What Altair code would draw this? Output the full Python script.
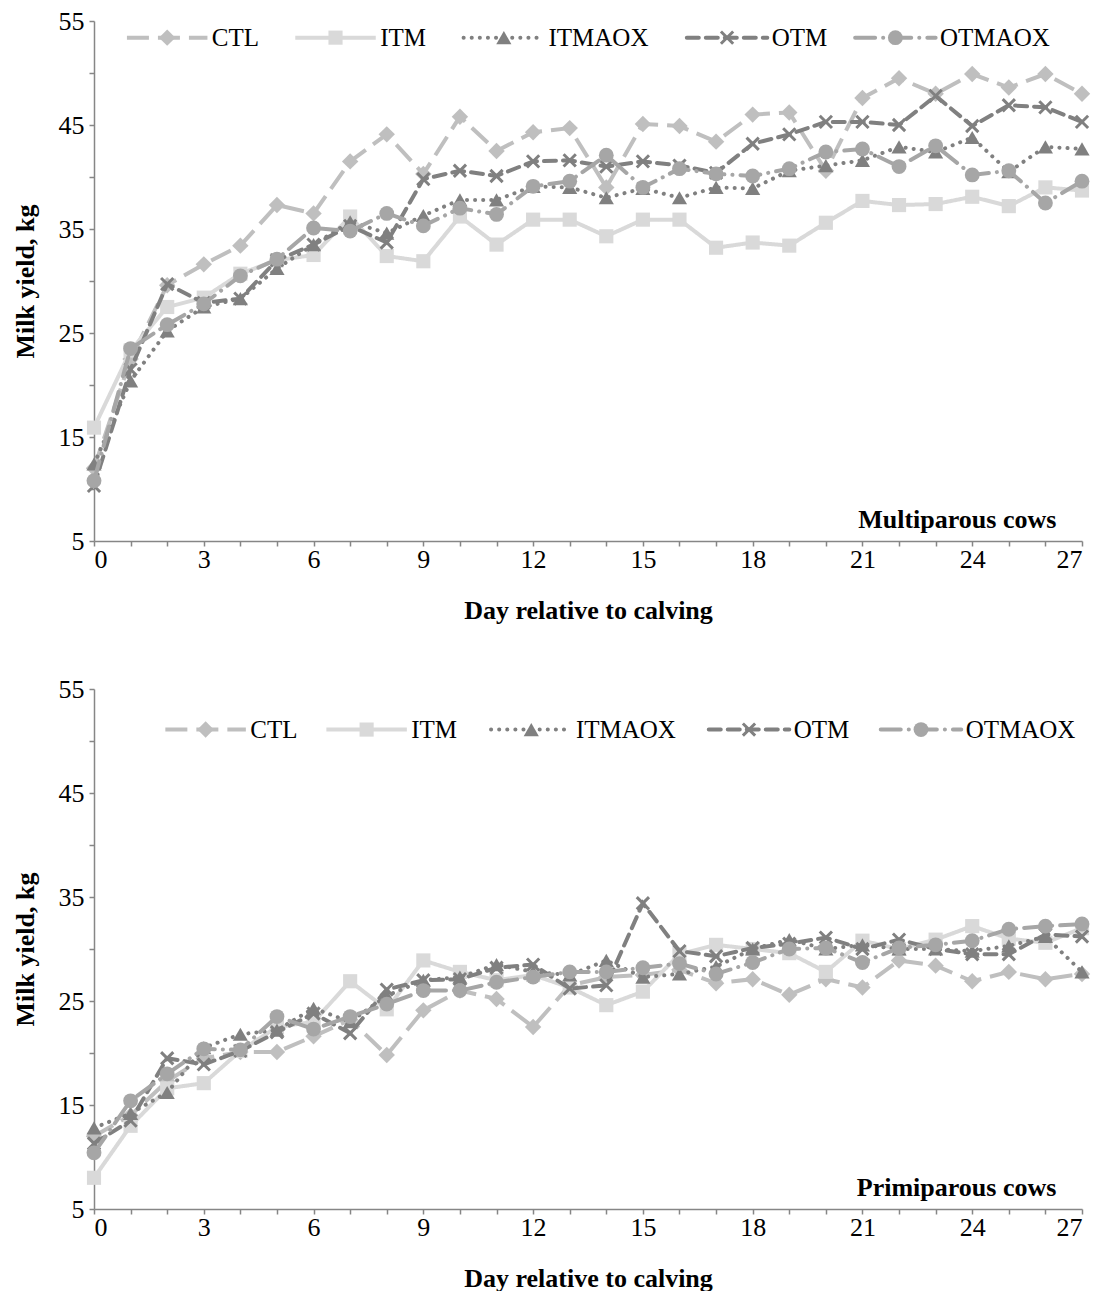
import altair as alt
import pandas as pd

days = list(range(28))
series_names = ["CTL", "ITM", "ITMAOX", "OTM", "OTMAOX"]

# Multiparous cows
ctl_m = [12.0, 22.5, 29.6, 31.6, 33.4, 37.3, 36.5, 41.5, 44.1, 40.3, 45.8, 42.5, 44.3, 44.7, 39.0, 45.1, 44.9, 43.4, 46.0, 46.2, 40.6, 47.6, 49.5, 48.0, 49.9, 48.6, 49.9, 48.0]
itm_m = [15.9, 23.3, 27.5, 28.4, 30.7, 32.0, 32.5, 36.2, 32.4, 31.9, 36.2, 33.5, 35.9, 35.9, 34.3, 35.9, 35.9, 33.2, 33.7, 33.4, 35.6, 37.7, 37.3, 37.4, 38.1, 37.2, 39.0, 38.7]
itmaox_m = [12.4, 20.4, 25.2, 27.5, 28.3, 31.2, 33.5, 35.7, 34.6, 36.3, 37.8, 37.8, 39.1, 39.0, 38.0, 38.9, 38.0, 39.0, 38.9, 40.6, 41.1, 41.6, 42.9, 42.4, 43.8, 40.5, 42.9, 42.7]
otm_m = [10.3, 21.5, 29.7, 27.9, 28.3, 32.0, 33.5, 35.3, 33.7, 39.8, 40.6, 40.1, 41.5, 41.6, 41.0, 41.5, 41.1, 40.4, 43.2, 44.1, 45.3, 45.3, 45.0, 47.8, 44.9, 46.9, 46.7, 45.3]
otmaox_m = [10.8, 23.5, 25.8, 27.8, 30.5, 32.1, 35.1, 34.8, 36.5, 35.3, 37.0, 36.4, 39.1, 39.6, 42.1, 39.0, 40.8, 40.3, 40.1, 40.8, 42.4, 42.7, 41.0, 43.0, 40.2, 40.6, 37.5, 39.6]

# Primiparous cows
ctl_p = [12.0, 14.0, 17.3, 19.5, 20.1, 20.1, 21.6, 23.2, 19.8, 24.1, 26.0, 25.2, 22.5, 26.5, 27.3, 27.5, 28.0, 26.7, 27.1, 25.6, 27.1, 26.3, 28.9, 28.4, 26.9, 27.8, 27.1, 27.6]
itm_p = [8.0, 13.0, 16.6, 17.1, 20.2, 22.5, 23.0, 26.9, 24.2, 28.9, 27.8, 27.0, 27.5, 26.3, 24.6, 25.9, 29.5, 30.4, 30.0, 29.6, 27.8, 30.8, 30.0, 30.9, 32.2, 31.0, 30.6, 32.0]
itmaox_p = [12.8, 14.2, 16.2, 20.5, 21.8, 22.2, 24.3, 23.0, 25.5, 27.0, 27.3, 28.5, 27.8, 27.5, 28.9, 27.3, 27.6, 28.3, 30.0, 30.9, 30.0, 30.4, 30.0, 30.0, 29.8, 30.3, 31.2, 27.8]
otm_p = [11.3, 13.5, 19.5, 18.9, 20.2, 22.0, 23.8, 21.9, 26.1, 27.0, 27.1, 28.2, 28.5, 26.2, 26.5, 34.4, 29.8, 29.3, 30.1, 30.5, 31.1, 30.0, 30.9, 30.0, 29.5, 29.5, 31.4, 31.2]
otmaox_p = [10.4, 15.4, 18.0, 20.4, 20.3, 23.5, 22.3, 23.5, 24.7, 26.0, 26.0, 26.8, 27.3, 27.8, 27.8, 28.2, 28.6, 27.6, 28.7, 30.0, 30.1, 28.7, 30.1, 30.4, 30.8, 31.9, 32.2, 32.4]

panel_labels = ["Multiparous cows", "Primiparous cows"]
x_title = "Day relative to calving"
y_title = "Milk yield, kg"

# legend marker centres (in axis units) per panel
legend_mid_m = [2.0, 6.6, 11.2, 17.3, 21.9]
legend_mid_p = [3.05, 7.45, 11.95, 17.9, 22.6]
legend_y = [53.4, 51.1]

FONT = "Liberation Serif"
FS = 26
LFS = 25
CROSS = "M -1 -1 L 1 1 M -1 1 L 1 -1"
styles = {
    "CTL": dict(color="#bfbfbf", dash=[22, 9], cap="butt", shape="diamond", size=270, filled=True),
    "ITM": dict(color="#d9d9d9", dash=[1, 0], cap="butt", shape="square", size=200, filled=True),
    "ITMAOX": dict(color="#808080", dash=[0.1, 8], cap="round", shape="triangle-up", size=230, filled=True),
    "OTM": dict(color="#808080", dash=[12, 7], cap="round", shape=CROSS, size=150, filled=False),
    "OTMAOX": dict(color="#a6a6a6", dash=[20, 8, 0.1, 8], cap="round", shape="circle", size=220, filled=True),
}

xs = alt.X("day:Q", scale=alt.Scale(domain=[0, 27], nice=False),
           axis=alt.Axis(values=days, labelExpr="datum.value % 3 == 0 ? datum.label : ''",
                         tickSize=5, labelPadding=0, titlePadding=25, grid=False),
           title=x_title)
ys = alt.Y("value:Q", scale=alt.Scale(domain=[5, 55], nice=False, zero=False),
           axis=alt.Axis(values=list(range(5, 60, 5)), labelExpr="datum.value % 10 == 5 ? datum.label : ''",
                         tickSize=5, labelPadding=5, titlePadding=20, grid=False),
           title=y_title)


def point_layer(data, st):
    if st["filled"]:
        mk = alt.Chart(data).mark_point(shape=st["shape"], size=st["size"], filled=True,
                                        color=st["color"], opacity=1)
    else:
        mk = alt.Chart(data).mark_point(shape=st["shape"], size=st["size"], filled=False,
                                        color=st["color"], strokeWidth=3, opacity=1)
    return mk.encode(x=xs, y=ys)


def make_panel(data_lists, mids, ly, label):
    layers = []
    for name, vals in zip(series_names, data_lists):
        st = styles[name]
        df = pd.DataFrame({"day": days, "value": vals})
        layers.append(alt.Chart(df).mark_line(color=st["color"], strokeWidth=4, strokeDash=st["dash"],
                                              strokeCap=st["cap"]).encode(x=xs, y=ys))
        layers.append(point_layer(df, st))
    # legend
    half = 1.1
    for name, xm in zip(series_names, mids):
        st = styles[name]
        ldf = pd.DataFrame({"day": [xm - half, xm + half], "value": [ly, ly]})
        layers.append(alt.Chart(ldf).mark_line(color=st["color"], strokeWidth=4, strokeDash=st["dash"],
                                               strokeCap=st["cap"]).encode(x=xs, y=ys))
        layers.append(point_layer(pd.DataFrame({"day": [xm], "value": [ly]}), st))
        tdf = pd.DataFrame({"day": [xm + half + 0.12], "value": [ly], "t": [name]})
        layers.append(alt.Chart(tdf).mark_text(align="left", baseline="middle", font=FONT, fontSize=LFS,
                                               color="black").encode(x=xs, y=ys, text="t:N"))
    pdf = pd.DataFrame({"day": [26.3], "value": [7.0], "t": [label]})
    layers.append(alt.Chart(pdf).mark_text(align="right", baseline="middle", font=FONT, fontSize=FS,
                                           fontWeight="bold", color="black").encode(x=xs, y=ys, text="t:N"))
    return alt.layer(*layers).properties(width=988, height=520)


top = make_panel([ctl_m, itm_m, itmaox_m, otm_m, otmaox_m], legend_mid_m, legend_y[0], panel_labels[0])
bottom = make_panel([ctl_p, itm_p, itmaox_p, otm_p, otmaox_p], legend_mid_p, legend_y[1], panel_labels[1])

chart = alt.vconcat(top, bottom, spacing=53).properties(
    padding={"left": 4, "top": 0, "right": 0, "bottom": 0}
).configure_view(stroke=None).configure_axis(
    domainColor="#868686", tickColor="#868686", domainWidth=1.5, tickWidth=1.5,
    labelFont=FONT, labelFontSize=FS, labelColor="black",
    titleFont=FONT, titleFontSize=FS, titleFontWeight="bold", titleColor="black",
)

chart.save("out.html", embed_options={"renderer": "svg", "actions": False})
